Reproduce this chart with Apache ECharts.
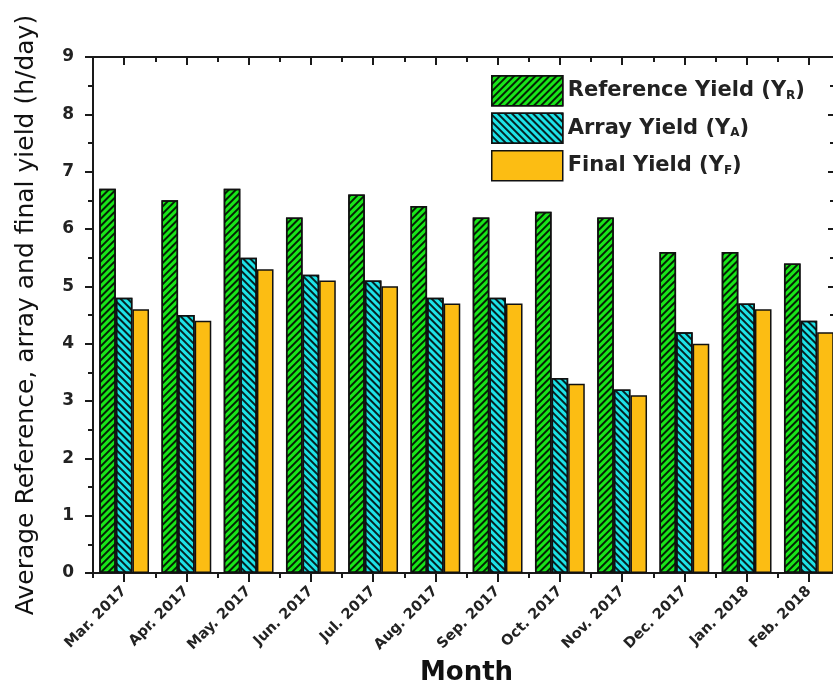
<!DOCTYPE html>
<html><head><meta charset="utf-8">
<script src="https://cdn.jsdelivr.net/npm/echarts@6/dist/echarts.min.js"></script>
<style>html,body{margin:0;padding:0;background:#fff}#c{width:833px;height:684px}</style>
</head><body><div id="c"></div>
<script>
const months = ['Mar. 2017','Apr. 2017','May. 2017','Jun. 2017','Jul. 2017','Aug. 2017','Sep. 2017','Oct. 2017','Nov. 2017','Dec. 2017','Jan. 2018','Feb. 2018'];
const referenceYield = [6.7,6.5,6.7,6.2,6.6,6.4,6.2,6.3,6.2,5.6,5.6,5.4];
const arrayYield = [4.8,4.5,5.5,5.2,5.1,4.8,4.8,3.4,3.2,4.2,4.7,4.4];
const finalYield = [4.6,4.4,5.3,5.1,5.0,4.7,4.7,3.3,3.1,4.0,4.6,4.2];
const seriesNames = ['Reference Yield (YR)','Array Yield (YA)','Final Yield (YF)'];
const yTicks = [0,1,2,3,4,5,6,7,8,9];

const chart = echarts.init(document.getElementById('c'));
const axisCol = '#1a1a1a';
const font = 'DejaVu Sans, Verdana, sans-serif';
const subs = {'Reference Yield (YR)':['Reference Yield (Y','R'],'Array Yield (YA)':['Array Yield (Y','A'],'Final Yield (YF)':['Final Yield (Y','F']};
function catAxis(pos, showLabel, alignLabel, inside, len){
  return {type:'category', data:months, position:pos, boundaryGap:true,
    axisLine:{show:true, lineStyle:{color:axisCol,width:2}},
    axisTick:{show:true, alignWithLabel:alignLabel, inside:inside, length:len, lineStyle:{color:axisCol,width:2}},
    axisLabel:{show:!!showLabel, rotate:45, margin:16, fontFamily:font, fontWeight:'bold', fontSize:14.5, color:'#222'},
    splitLine:{show:false}};
}
const xAxes = [
  Object.assign(catAxis('bottom', true, true, false, 9), {name:'Month', nameLocation:'middle', nameGap:86, nameTextStyle:{fontFamily:font,fontWeight:'bold',fontSize:26,color:'#111'}}),
  catAxis('bottom', false, false, false, 5),
  catAxis('top', false, true, true, 8),
  catAxis('top', false, false, true, 5)
];
const yAxes = [
  {type:'value', min:0, max:9, interval:1, position:'left',
   name:'Average Reference, array and final yield (h/day)', nameLocation:'middle', nameGap:54,
   nameTextStyle:{fontFamily:font,fontSize:25,color:'#111'},
   axisLine:{show:true,lineStyle:{color:axisCol,width:2}},
   axisTick:{show:true,length:8,lineStyle:{color:axisCol,width:2}},
   minorTick:{show:true,splitNumber:2,length:5,lineStyle:{color:axisCol,width:2}},
   axisLabel:{margin:19,fontFamily:font,fontWeight:'bold',fontSize:17,color:'#222',formatter:v=>yTicks.includes(v)?String(v):''},
   splitLine:{show:false}},
  {type:'value', min:0, max:9, interval:1, position:'right',
   axisLine:{show:true,lineStyle:{color:axisCol,width:2}},
   axisTick:{show:true,inside:true,length:12,lineStyle:{color:axisCol,width:2}},
   minorTick:{show:true,splitNumber:2,length:10,lineStyle:{color:axisCol,width:2}},
   axisLabel:{show:false}, splitLine:{show:false}}
];
function mk(name, data, color, decal){
  const s = {name:name, type:'bar', data:data, xAxisIndex:0, yAxisIndex:0,
    barGap:'0%', barCategoryGap:'20%',
    itemStyle:{color:color, borderColor:'#111', borderWidth:1.5}};
  if (decal) s.itemStyle.decal = decal;
  return s;
}
const stripe = rot => ({symbol:'rect', symbolSize:1, dashArrayX:[1,0], dashArrayY:[2,3], rotation:rot, color:'rgba(0,0,0,0.85)'});
chart.setOption({
  backgroundColor:'#fff',
  animation:false,
  aria:{enabled:false},
  grid:{left:93, top:57, width:747, height:516, containLabel:false, outerBoundsMode:'none'},
  legend:{show:true, left:486, top:70, orient:'vertical', icon:'rect', itemWidth:71, itemHeight:30, itemGap:6,
    data:seriesNames,
    itemStyle:{borderColor:'#111', borderWidth:1.5},
    formatter:n=>'{a|'+subs[n][0]+'}{s|'+subs[n][1]+'}{a|)}',
    textStyle:{padding:[0,0,0,0], rich:{a:{fontFamily:font,fontWeight:'bold',fontSize:21,color:'#222',lineHeight:24},
                     s:{fontFamily:font,fontWeight:'bold',fontSize:12,color:'#222',padding:[10,0,0,0],lineHeight:24}}}},
  xAxis:xAxes,
  yAxis:yAxes,
  series:[
    mk(seriesNames[0], referenceYield, '#19e619', stripe(-Math.PI/4)),
    mk(seriesNames[1], arrayYield, '#1ee3e8', stripe(Math.PI/4)),
    mk(seriesNames[2], finalYield, '#fcbd13', null)
  ]
});
</script></body></html>
